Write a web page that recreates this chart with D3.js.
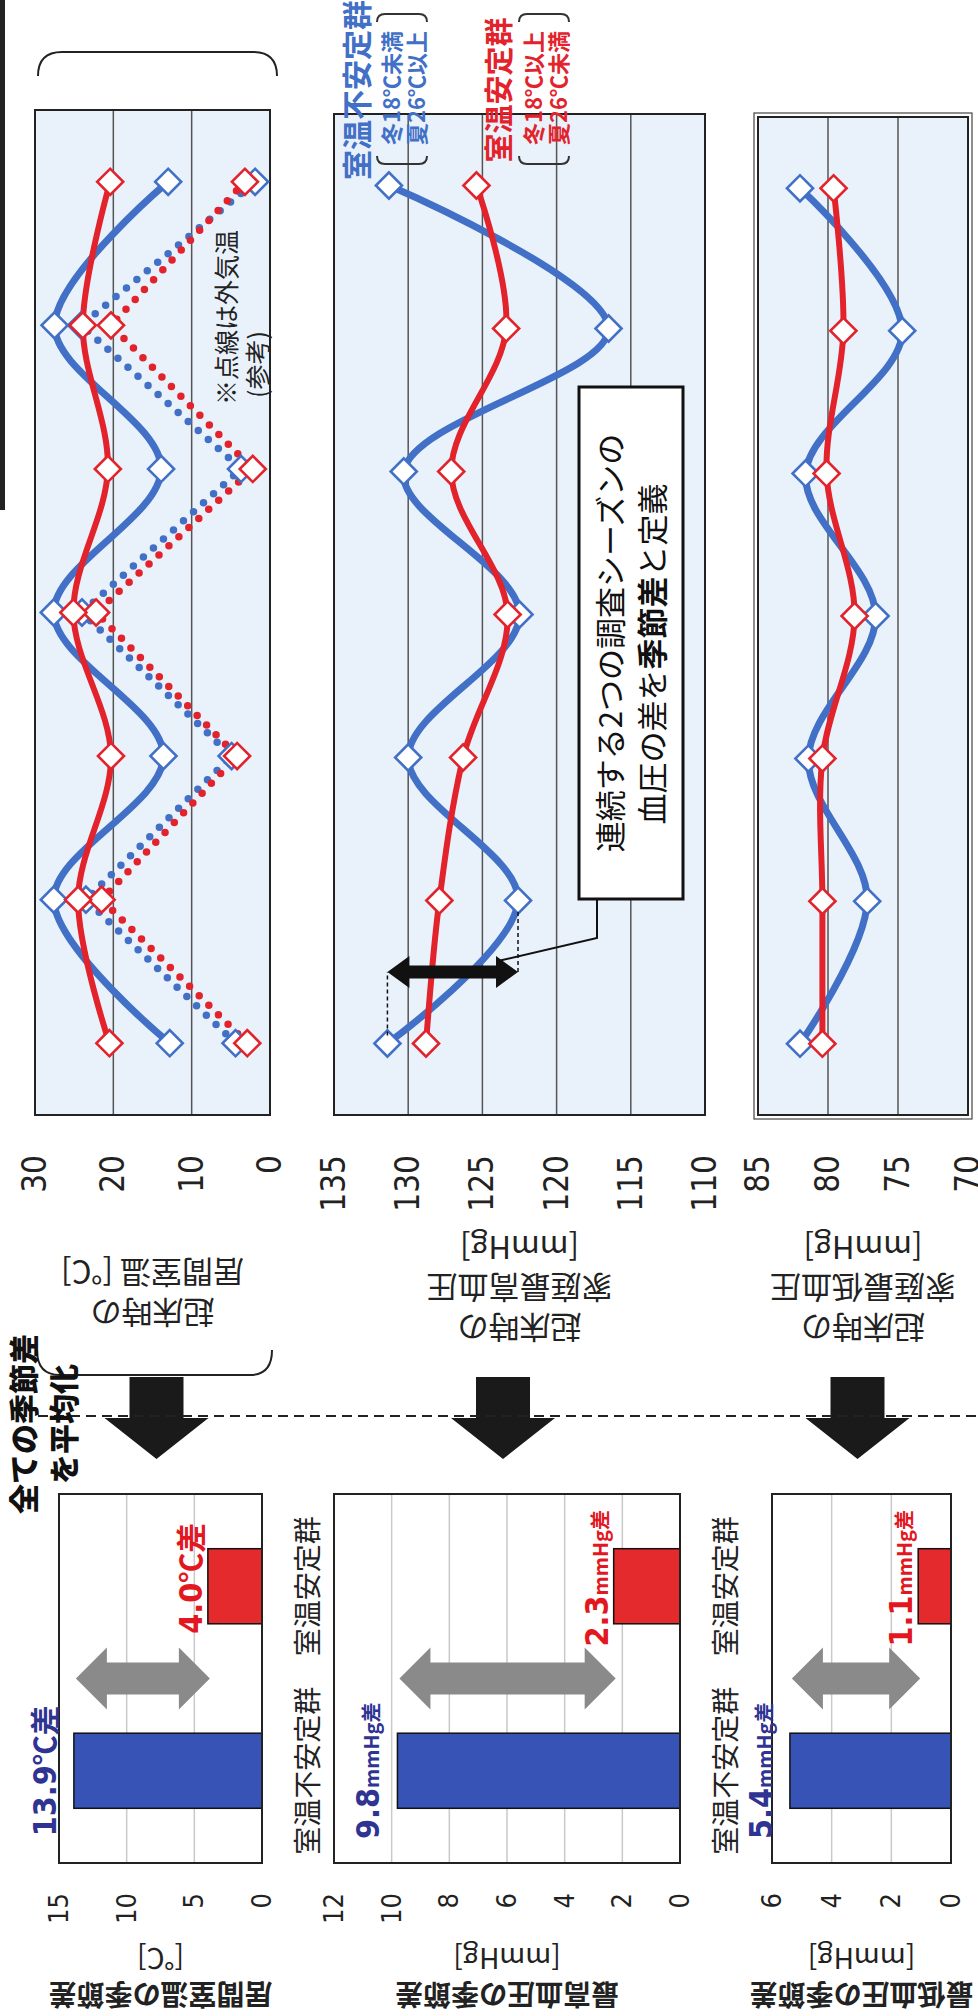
<!DOCTYPE html>
<html>
<head>
<meta charset="utf-8">
<script src="https://cdn.jsdelivr.net/npm/d3@7"></script>
<style>
  body { margin: 0; background: #fff; }
  svg { display: block; }
</style>
</head>
<body>
<svg id="chart" width="978" height="2016"></svg>
<script>
// seasons in survey order (winter / summer alternating)
const seasons = ["冬1", "夏1", "冬2", "夏2", "冬3", "夏3", "冬4"];

// living room temperature on waking [°C]
const tempUnstable = [12.8, 27.6, 13.6, 27.6, 13.9, 27.5, 13.0];
const tempStable = [20.5, 24.5, 20.3, 25.1, 20.7, 23.9, 20.4];
// outdoor temperature (dotted, reference)
const outdoorUnstable = [4.4, 23.5, 4.9, 24.0, 3.7, 24.1, 1.9];
const outdoorStable = [2.9, 21.5, 4.2, 22.2, 2.2, 20.3, 3.2];
// home systolic blood pressure [mmHg]
const sbpUnstable = [131.4, 122.6, 130.0, 122.5, 130.3, 116.5, 131.3];
const sbpStable = [128.8, 127.9, 126.3, 123.3, 127.1, 123.4, 125.4];
// home diastolic blood pressure [mmHg]
const dbpUnstable = [82.0, 77.2, 81.4, 76.6, 81.6, 74.7, 82.0];
const dbpStable = [80.4, 80.4, 80.4, 78.1, 80.1, 78.9, 79.6];

const tempTicks = [0, 10, 20, 30];
const sbpTicks = [110, 115, 120, 125, 130, 135];
const dbpTicks = [70, 75, 80, 85];

// averaged seasonal differences
const groups = ["室温不安定群", "室温安定群"];
const tempDiff = [13.9, 4.0];
const sbpDiff = [9.8, 2.3];
const dbpDiff = [5.4, 1.1];
const tempDiffTicks = [0, 5, 10, 15];
const sbpDiffTicks = [0, 2, 4, 6, 8, 10, 12];
const dbpDiffTicks = [0, 2, 4, 6];

const BLUE = "#4170c6", RED = "#e3232b";
const BAR_BLUE = "#3753b6", BAR_RED = "#e52a2e";
const LABEL_BLUE = "#2f3493", LABEL_RED = "#e3171f";
const JP = "'Noto Sans CJK JP', 'Noto Sans', sans-serif";
const NUM = "'DejaVu Sans Condensed', 'DejaVu Sans', sans-serif";
const PAGE_H = 978; // landscape height before turning

const svg = d3.select("#chart");
// the page is printed sideways: draw in landscape coords and turn it
const g = svg.append("g").attr("transform", "translate(0,2016) rotate(-90)");

// scan edge
g.append("rect").attr("x", 1506).attr("y", 0).attr("width", 510).attr("height", 5).attr("fill", "#222");

const linePanels = [
  { unstable: tempUnstable, stable: tempStable, outUnstable: outdoorUnstable, outStable: outdoorStable,
    ticks: tempTicks, y0: 270, y1: 35, x0: 901, x1: 1906, title: ["起床時の", "居間室温 [℃]"], titleX: 702 },
  { unstable: sbpUnstable, stable: sbpStable, ticks: sbpTicks, y0: 705, y1: 334, x0: 901, x1: 1902,
    title: ["起床時の", "家庭最高血圧", "[mmHg]"], titleX: 687 },
  { unstable: dbpUnstable, stable: dbpStable, ticks: dbpTicks, y0: 968, y1: 758, x0: 901, x1: 1899,
    title: ["起床時の", "家庭最低血圧", "[mmHg]"], titleX: 687, double: true }
];

const diamond = d3.symbol().type(d3.symbolSquare).size(340);

linePanels.forEach(p => {
  const x = d3.scalePoint().domain(seasons).range([p.x0, p.x1]).padding(0.5);
  const y = d3.scaleLinear().domain(d3.extent(p.ticks)).range([p.y0, p.y1]);
  p.x = x; p.y = y;

  g.append("rect")
    .attr("x", p.x0).attr("y", p.y1)
    .attr("width", p.x1 - p.x0).attr("height", p.y0 - p.y1)
    .attr("fill", "#e9f2fb");

  g.append("g").selectAll("line")
    .data(p.ticks.slice(1, -1))
    .join("line")
    .attr("x1", p.x0).attr("x2", p.x1)
    .attr("y1", d => y(d)).attr("y2", d => y(d))
    .attr("stroke", "#555").attr("stroke-width", 1.5);

  g.append("rect")
    .attr("x", p.x0).attr("y", p.y1)
    .attr("width", p.x1 - p.x0).attr("height", p.y0 - p.y1)
    .attr("fill", "none").attr("stroke", "#222").attr("stroke-width", 2);
  if (p.double) {
    g.append("rect")
      .attr("x", p.x0 - 4).attr("y", p.y1 - 4)
      .attr("width", p.x1 - p.x0 + 8).attr("height", p.y0 - p.y1 + 8)
      .attr("fill", "none").attr("stroke", "#444").attr("stroke-width", 1.2);
  }

  const ax = g.append("g")
    .attr("transform", `translate(${p.x0},0)`)
    .call(d3.axisLeft(y).tickValues(p.ticks).tickSize(0).tickPadding(40).tickFormat(d3.format("d")));
  ax.select(".domain").remove();
  ax.attr("font-family", NUM).attr("font-size", 33).attr("color", "#222");

  p.title.forEach((t, i) => {
    g.append("text")
      .attr("transform", `translate(${p.titleX + i * 40},${(p.y0 + p.y1) / 2}) rotate(-90)`)
      .attr("text-anchor", "middle").attr("dominant-baseline", "central")
      .attr("font-family", JP).attr("font-size", 31).attr("fill", "#222")
      .text(t);
  });

  const smooth = d3.line()
    .x((d, i) => x(seasons[i])).y(d => y(d))
    .curve(d3.curveCatmullRom.alpha(0.5));
  const straight = d3.line()
    .x((d, i) => x(seasons[i])).y(d => y(d));

  const series = [];
  if (p.outUnstable) {
    series.push({ values: p.outUnstable, color: BLUE, dotted: true });
    series.push({ values: p.outStable, color: RED, dotted: true });
  }
  series.push({ values: p.unstable, color: BLUE, width: 7 });
  series.push({ values: p.stable, color: RED, width: 6 });

  series.forEach(s => {
    g.append("path")
      .attr("d", s.dotted ? straight(s.values) : smooth(s.values))
      .attr("fill", "none")
      .attr("stroke", s.color)
      .attr("stroke-width", s.dotted ? 7.5 : s.width)
      .attr("stroke-linecap", "round")
      .attr("stroke-dasharray", s.dotted ? "0 13.5" : null);
  });
  series.forEach(s => {
    g.append("g").selectAll("path")
      .data(s.values)
      .join("path")
      .attr("d", diamond)
      .attr("transform", (d, i) => `translate(${x(seasons[i])},${y(d)}) rotate(45)`)
      .attr("fill", "#fff").attr("stroke", s.color).attr("stroke-width", 2.6);
  });
});

// note on dotted lines
g.append("text").attr("x", 1611).attr("y", 236)
  .attr("font-family", JP).attr("font-size", 25).attr("fill", "#222").text("※点線は外気温");
g.append("text").attr("x", 1618).attr("y", 267)
  .attr("font-family", JP).attr("font-size", 25).attr("fill", "#222").text("(参考)");

// parentheses around the temperature row
g.append("path").attr("d", "M1940,38 Q1964,38 1964,62 L1964,253 Q1964,277 1940,277")
  .attr("fill", "none").attr("stroke", "#222").attr("stroke-width", 2);
g.append("path").attr("d", "M666,272 Q641,272 641,250 L641,60 Q641,37 666,37")
  .attr("fill", "none").attr("stroke", "#222").attr("stroke-width", 2);

// legend
const legend = [
  { name: groups[0], sub: ["冬18℃未満", "夏26℃以上"], color: BLUE, y: 355, size: 30 },
  { name: groups[1], sub: ["冬18℃以上", "夏26℃未満"], color: RED, y: 497, size: 29 }
];
legend.forEach(l => {
  g.append("text").attr("x", 1926).attr("y", l.y)
    .attr("text-anchor", "middle").attr("dominant-baseline", "central")
    .attr("font-family", JP).attr("font-weight", 700).attr("font-size", l.size)
    .attr("fill", l.color).text(l.name);
  const top = l.y + 22, bot = l.y + 72;
  g.append("path")
    .attr("d", `M1860,${top} Q1852,${top} 1852,${top + 8} L1852,${bot - 8} Q1852,${bot} 1860,${bot}` +
      ` M1994,${top} Q2002,${top} 2002,${top + 8} L2002,${bot - 8} Q2002,${bot} 1994,${bot}`)
    .attr("fill", "none").attr("stroke", "#333").attr("stroke-width", 2);
  l.sub.forEach((s, i) => {
    g.append("text").attr("x", 1928).attr("y", l.y + 35 + i * 25)
      .attr("text-anchor", "middle").attr("dominant-baseline", "central")
      .attr("font-family", JP).attr("font-weight", 700).attr("font-size", 22)
      .attr("fill", l.color).text(s);
  });
});

// seasonal-difference marker on the systolic panel
const sp = linePanels[1];
const ax0 = sp.x(seasons[0]), ax1 = sp.x(seasons[1]);
const am = (ax0 + ax1) / 2;
const ya = sp.y(sbpUnstable[0]), yb = sp.y(sbpUnstable[1]);
g.append("path")
  .attr("d", `M${ax0 + 8},${ya} L${am},${ya} M${am},${yb} L${ax1 - 10},${yb}`)
  .attr("stroke", "#111").attr("stroke-width", 1.5).attr("stroke-dasharray", "4 3");
g.append("path")
  .attr("d", `M${am},${ya} L${am + 16},${ya + 22} L${am + 6.5},${ya + 22} L${am + 6.5},${yb - 22} L${am + 16},${yb - 22}` +
    ` L${am},${yb} L${am - 16},${yb - 22} L${am - 6.5},${yb - 22} L${am - 6.5},${ya + 22} L${am - 16},${ya + 22} Z`)
  .attr("fill", "#111");

// callout
g.append("path").attr("d", `M1117,597 L1078,597 L${am + 11},${yb - 20}`)
  .attr("fill", "none").attr("stroke", "#111").attr("stroke-width", 2);
g.append("rect").attr("x", 1117).attr("y", 579).attr("width", 512).attr("height", 104)
  .attr("fill", "#fff").attr("stroke", "#111").attr("stroke-width", 3);
g.append("text").attr("x", 1373).attr("y", 608)
  .attr("text-anchor", "middle").attr("dominant-baseline", "central")
  .attr("font-family", JP).attr("font-size", 31).attr("fill", "#111")
  .text("連続する2つの調査シーズンの");
const ct = g.append("text").attr("x", 1362).attr("y", 650)
  .attr("text-anchor", "middle").attr("dominant-baseline", "central")
  .attr("font-family", JP).attr("font-size", 31).attr("fill", "#111");
ct.append("tspan").text("血圧の差を");
ct.append("tspan").attr("font-weight", 700).text("季節差");
ct.append("tspan").text("と定義");

// bar panels
const barPanels = [
  { values: tempDiff, ticks: tempDiffTicks, y0: 262, y1: 59, num: ["13.9", "4.0"], unit: "℃差", unitSize: 30,
    title: ["居間室温の季節差", "[℃]"] },
  { values: sbpDiff, ticks: sbpDiffTicks, y0: 680, y1: 334, num: ["9.8", "2.3"], unit: "mmHg差", unitSize: 20,
    title: ["最高血圧の季節差", "[mmHg]"] },
  { values: dbpDiff, ticks: dbpDiffTicks, y0: 951, y1: 772, num: ["5.4", "1.1"], unit: "mmHg差", unitSize: 20,
    title: ["最低血圧の季節差", "[mmHg]"] }
];

barPanels.forEach(p => {
  const x = d3.scaleBand().domain(groups).range([153, 522]).paddingInner(0.593).paddingOuter(0.2965);
  const y = d3.scaleLinear().domain(d3.extent(p.ticks)).range([p.y0, p.y1]);

  g.append("g").selectAll("line")
    .data(p.ticks.slice(1, -1))
    .join("line")
    .attr("x1", 153).attr("x2", 522)
    .attr("y1", d => y(d)).attr("y2", d => y(d))
    .attr("stroke", "#c9c9c9").attr("stroke-width", 1.5);

  g.append("g").selectAll("rect")
    .data(p.values)
    .join("rect")
    .attr("x", (d, i) => x(groups[i]))
    .attr("width", x.bandwidth())
    .attr("y", d => y(d))
    .attr("height", d => y(0) - y(d))
    .attr("fill", (d, i) => i === 0 ? BAR_BLUE : BAR_RED)
    .attr("stroke", "#111").attr("stroke-width", 1.5);

  g.append("rect").attr("x", 153).attr("y", p.y1)
    .attr("width", 522 - 153).attr("height", p.y0 - p.y1)
    .attr("fill", "none").attr("stroke", "#222").attr("stroke-width", 2);

  const ax = g.append("g")
    .attr("transform", "translate(153,0)")
    .call(d3.axisLeft(y).tickValues(p.ticks).tickSize(0).tickPadding(30).tickFormat(d3.format("d")));
  ax.select(".domain").remove();
  ax.attr("font-family", NUM).attr("font-size", 27).attr("color", "#222");

  // category labels (the last row's fall beyond the page edge, as in the print)
  if (p.y0 + 60 < PAGE_H) {
    groups.forEach(gr => {
      g.append("text").attr("x", x(gr) + x.bandwidth() / 2).attr("y", p.y0 + 44)
        .attr("text-anchor", "middle").attr("dominant-baseline", "central")
        .attr("font-family", JP).attr("font-size", 28).attr("fill", "#222").text(gr);
    });
  }

  // value labels
  p.values.forEach((v, i) => {
    const lx = x(groups[i]) + x.bandwidth() / 2 + (i === 0 ? 0 : 8);
    const ly = y(v) - (i === 0 ? 18 : 6);
    const t = g.append("text").attr("x", lx).attr("y", ly)
      .attr("text-anchor", "middle")
      .attr("font-weight", 700).attr("fill", i === 0 ? LABEL_BLUE : LABEL_RED);
    t.append("tspan").attr("font-family", NUM).attr("font-size", 32).text(p.num[i]);
    t.append("tspan").attr("font-family", JP).attr("font-size", p.unitSize).text(p.unit);
  });

  // grey double arrow between the two bar tops
  const m = (x(groups[0]) + x(groups[1]) + x.bandwidth()) / 2;
  const a = y(p.values[0]) + 2, b = y(p.values[1]) + 2;
  g.append("path")
    .attr("d", `M${m},${a} L${m + 31},${a + 31} L${m + 16},${a + 31} L${m + 16},${b - 31} L${m + 31},${b - 31}` +
      ` L${m},${b} L${m - 31},${b - 31} L${m - 16},${b - 31} L${m - 16},${a + 31} L${m - 31},${a + 31} Z`)
    .attr("fill", "#8a8a8a");

  p.title.forEach((t, i) => {
    g.append("text")
      .attr("transform", `translate(${20 + i * 36},${(p.y0 + p.y1) / 2}) rotate(-90)`)
      .attr("text-anchor", "middle").attr("dominant-baseline", "central")
      .attr("font-family", JP).attr("font-size", 28).attr("font-weight", i === 0 ? 700 : 400)
      .attr("fill", "#222").text(t);
  });

  // black arrow from line panel to bar panel
  const c = (p.y0 + p.y1) / 2 - 4;
  g.append("path")
    .attr("d", `M639,${c - 27} L598,${c - 27} L598,${c - 52} L557,${c} L598,${c + 52} L598,${c + 27} L639,${c + 27} Z`)
    .attr("fill", "#1a1a1a");
});

// divider and caption
g.append("line").attr("x1", 600).attr("x2", 600).attr("y1", 38).attr("y2", 978)
  .attr("stroke", "#222").attr("stroke-width", 2).attr("stroke-dasharray", "10 6");
[["全ての季節差", 22], ["を平均化", 62]].forEach(([t, yy]) => {
  g.append("text").attr("x", 592).attr("y", yy)
    .attr("text-anchor", "middle").attr("dominant-baseline", "central")
    .attr("font-family", JP).attr("font-weight", 900).attr("font-size", 30)
    .attr("fill", "#111").text(t);
});
</script>
</body>
</html>
